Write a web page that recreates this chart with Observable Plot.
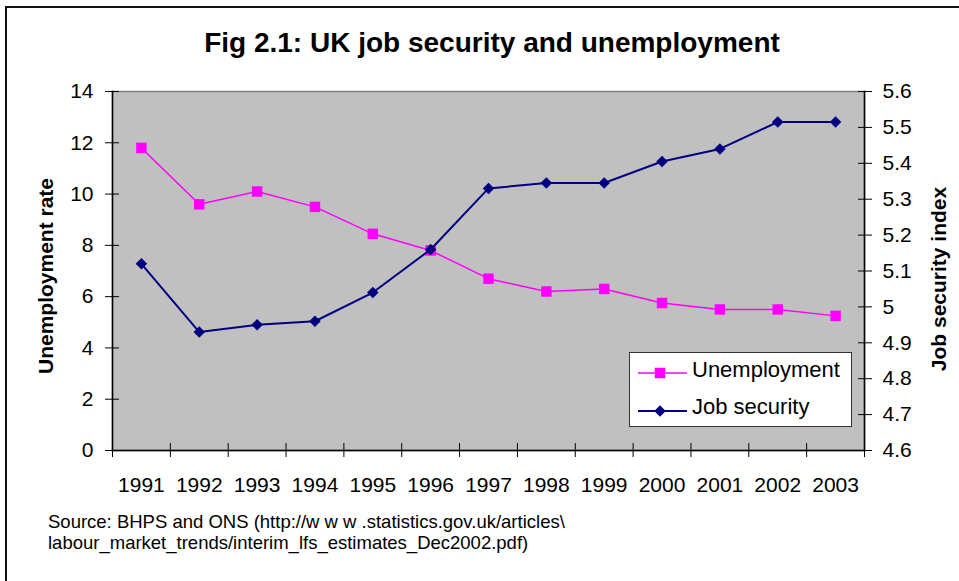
<!DOCTYPE html>
<html><head><meta charset="utf-8">
<script src="https://cdn.jsdelivr.net/npm/d3@7"></script>
<script src="https://cdn.jsdelivr.net/npm/@observablehq/plot@0.6"></script>
<style>
body{margin:0;background:#fff;font-family:"Liberation Sans",Arial,sans-serif;color:#000;}
#wrap{position:relative;width:959px;height:581px;overflow:hidden;background:#fff;}
#frame{position:absolute;left:5px;top:6px;width:1000px;height:700px;border-left:2px solid #111;border-top:2px solid #111;}
#title{position:absolute;left:492px;top:29.3px;transform:translateX(-50%);font-size:28px;line-height:28px;font-weight:bold;white-space:nowrap;}
#chart{position:absolute;left:0;top:70px;}
.ytitle{position:absolute;font-size:21px;line-height:21px;font-weight:bold;white-space:nowrap;transform:translate(-50%,-50%) rotate(-90deg);}
#yl{left:44.7px;top:276px;}
#yr{left:937.7px;top:278.5px;}
#legend{position:absolute;left:629px;top:352px;width:221px;height:73px;background:#fff;border:1px solid #333;}
#legend .sw{position:absolute;left:8px;width:50px;height:20px;}
#legend .lt{position:absolute;left:62px;font-size:22px;line-height:22px;white-space:nowrap;}
#source{position:absolute;left:48px;top:511px;font-size:18.5px;line-height:21px;white-space:nowrap;}
</style></head><body>
<div id="wrap">
  <div id="frame"></div>
  <div id="title">Fig 2.1: UK job security and unemployment</div>
  <div id="chart"></div>
  <div class="ytitle" id="yl">Unemployment rate</div>
  <div class="ytitle" id="yr">Job security index</div>
  <div id="legend"></div>
  <div id="source">Source: BHPS and ONS (http://w w w .statistics.gov.uk/articles\<br>labour_market_trends/interim_lfs_estimates_Dec2002.pdf)</div>
</div>
<script>
// ---- data ----
const years = [1991, 1992, 1993, 1994, 1995, 1996, 1997, 1998, 1999, 2000, 2001, 2002, 2003];
const unemployment = [11.8, 9.6, 10.1, 9.5, 8.45, 7.8, 6.7, 6.2, 6.3, 5.75, 5.5, 5.5, 5.25];
const jobSecurity = [5.12, 4.93, 4.95, 4.96, 5.04, 5.16, 5.33, 5.345, 5.345, 5.405, 5.44, 5.515, 5.515];
const leftTicks = [0, 2, 4, 6, 8, 10, 12, 14];
const rightTicks = [4.6, 4.7, 4.8, 4.9, 5.0, 5.1, 5.2, 5.3, 5.4, 5.5, 5.6];
const seriesNames = ["Unemployment", "Job security"];
const seriesColors = ["#ff00ff", "#000080"];

const uMin = leftTicks[0], uMax = leftTicks[leftTicks.length - 1];
const jsMin = rightTicks[0], jsMax = rightTicks[rightTicks.length - 1];
const toLeft = v => uMin + (v - jsMin) / (jsMax - jsMin) * (uMax - uMin);
const fromLeft = d => jsMin + (d - uMin) / (uMax - uMin) * (jsMax - jsMin);

const rows = years.map((year, i) => ({year, u: unemployment[i], js: toLeft(jobSecurity[i])}));
const bounds = d3.range(years.length + 1).map(i => years[0] - 0.5 + i);

const chart = Plot.plot({
  width: 959, height: 430,
  marginTop: 21, marginBottom: 50, marginLeft: 112, marginRight: 95,
  x: {domain: [bounds[0], bounds[bounds.length - 1]]},
  y: {domain: [uMin, uMax]},
  style: {fontFamily: "'Liberation Sans', Arial, sans-serif", fontSize: "21px", color: "#000", background: "transparent", overflow: "visible"},
  marks: [
    Plot.frame({fill: "#c0c0c0", stroke: "#808080", strokeWidth: 1.5}),
    Plot.frame({anchor: "left", stroke: "#000", strokeWidth: 1.5}),
    Plot.frame({anchor: "right", stroke: "#000", strokeWidth: 1.5}),
    Plot.frame({anchor: "bottom", stroke: "#000", strokeWidth: 1.5}),
    Plot.axisY({anchor: "left", ticks: leftTicks, tickSize: 14, dx: 7, tickPadding: 12, label: null, fontSize: 21, stroke: "#000"}),
    Plot.axisY({anchor: "right", ticks: rightTicks.map(toLeft), tickSize: 14, dx: -7, tickPadding: 11, label: null, fontSize: 21,
      tickFormat: d => String(+fromLeft(d).toFixed(2))}),
    Plot.axisX({anchor: "bottom", ticks: bounds, tickSize: 14, dy: -7, text: null, label: null}),
    Plot.axisX({anchor: "bottom", ticks: years, tickSize: 0, tickPadding: 27, label: null, fontSize: 21, tickFormat: d => String(d)}),
    Plot.line(rows, {x: "year", y: "u", stroke: seriesColors[0], strokeWidth: 1.5}),
    Plot.dot(rows, {x: "year", y: "u", symbol: "square", r: 5.9, fill: seriesColors[0]}),
    Plot.line(rows, {x: "year", y: "js", stroke: seriesColors[1], strokeWidth: 2}),
    Plot.dot(rows, {x: "year", y: "js", symbol: "diamond2", r: 5.2, fill: seriesColors[1]})
  ]
});
document.getElementById("chart").appendChild(chart);

// ---- legend ----
const legend = document.getElementById("legend");
const symbols = [d3.symbolSquare, d3.symbolDiamond2];
const sizes = [110, 85];
const swTop = [9.7, 48];
const txtTop = [6.1, 43.4];
seriesNames.forEach((name, i) => {
  const svg = d3.create("svg").attr("class", "sw").attr("width", 50).attr("height", 20).style("top", swTop[i] + "px");
  svg.append("line").attr("x1", 0).attr("x2", 49).attr("y1", 10).attr("y2", 10)
    .attr("stroke", seriesColors[i]).attr("stroke-width", i === 0 ? 1.5 : 2);
  svg.append("path").attr("transform", "translate(22,10)").attr("d", d3.symbol(symbols[i], sizes[i])()).attr("fill", seriesColors[i]);
  legend.appendChild(svg.node());
  const t = document.createElement("div");
  t.className = "lt"; t.style.top = txtTop[i] + "px"; t.textContent = name;
  legend.appendChild(t);
});
</script>
</body></html>
